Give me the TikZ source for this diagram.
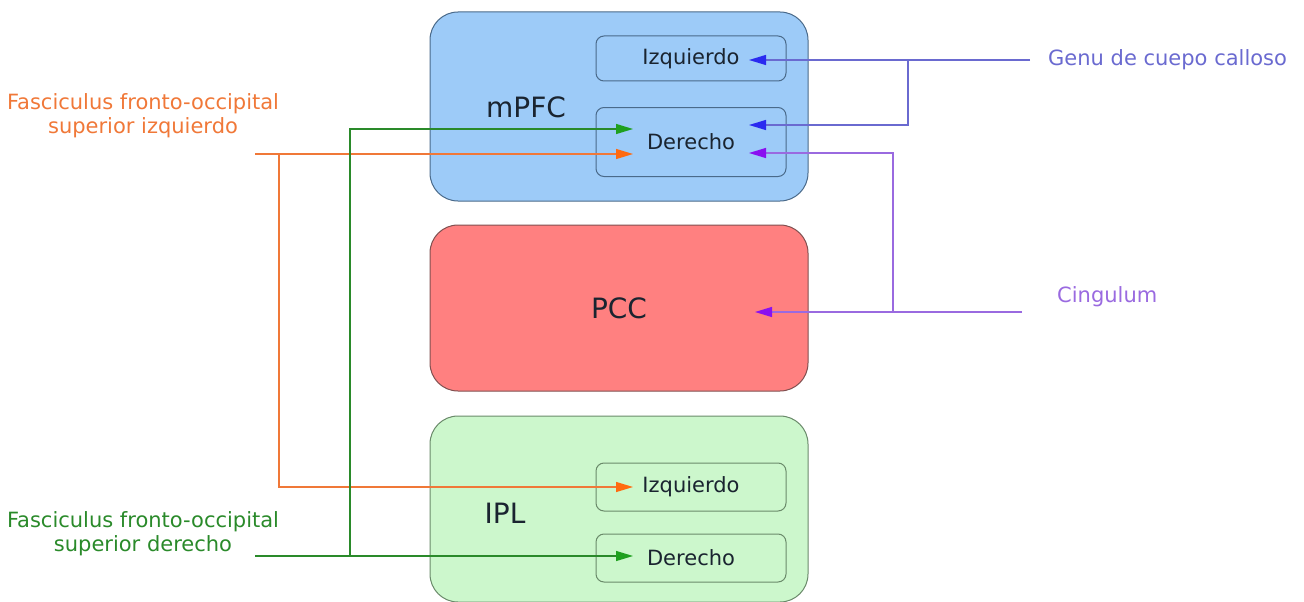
\documentclass[tikz,border=0pt]{standalone}
\usepackage{fontspec}
\setmainfont{DejaVu Sans}
\usetikzlibrary{arrows.meta}
\definecolor{blueFill}{HTML}{9DCBF8}
\definecolor{blueEdge}{HTML}{4A6A8A}
\definecolor{redFill}{HTML}{FF8080}
\definecolor{redEdge}{HTML}{805050}
\definecolor{greenFill}{HTML}{CCF7CC}
\definecolor{greenEdge}{HTML}{6A8A6A}
\definecolor{cOrange}{HTML}{F07838}
\definecolor{cOrangeTip}{HTML}{FF6A10}
\definecolor{cGreen}{HTML}{2A8A2A}
\definecolor{cGreenTip}{HTML}{1FA01F}
\definecolor{cBlue}{HTML}{6A6AD0}
\definecolor{cBlueTip}{HTML}{2A2AF0}
\definecolor{cPurple}{HTML}{9A6AE0}
\definecolor{cPurpleTip}{HTML}{8A10F0}
\definecolor{txt}{HTML}{1A2430}
\begin{document}
\begin{tikzpicture}[x=1pt,y=-1pt,
  bigbox/.style={draw, rounded corners=28pt, line width=1pt, minimum width=378pt, inner sep=0pt},
  subbox/.style={draw, rounded corners=8pt, line width=1pt, minimum width=190pt, inner sep=0pt, text=txt, font=\fontsize{21}{24}\selectfont},
  biglabel/.style={font=\fontsize{28}{32}\selectfont, inner sep=0pt, text=txt},
  sidelabel/.style={font=\fontsize{21}{24}\selectfont, align=center, inner sep=0pt},
  conn/.style={line width=1.2pt},
  tipO/.style={-{Triangle[length=17pt,width=10pt,color=cOrangeTip]}},
  tipG/.style={-{Triangle[length=17pt,width=10pt,color=cGreenTip]}},
  tipB/.style={-{Triangle[length=17pt,width=10pt,color=cBlueTip]}},
  tipP/.style={-{Triangle[length=17pt,width=10pt,color=cPurpleTip]}},
]
\useasboundingbox (0,0) rectangle (1304,602);
% big boxes
\node[bigbox, fill=blueFill, draw=blueEdge, minimum height=189pt] (mpfc) at (619,106.5) {};
\node[bigbox, fill=redFill, draw=redEdge, minimum height=166pt] (pcc) at (619,308) {};
\node[bigbox, fill=greenFill, draw=greenEdge, minimum height=186pt] (ipl) at (619,509) {};
% big labels
\node[biglabel] (mpfcL) at (526,107) {mPFC};
\node[biglabel] (pccL) at (619,308) {PCC};
\node[biglabel] (iplL) at (505,513) {IPL};
% sub boxes
\node[subbox, fill=blueFill, draw=blueEdge, minimum height=45pt] (mIzq) at (691,58.5) {Izquierdo};
\node[subbox, fill=blueFill, draw=blueEdge, minimum height=69pt] (mDer) at (691,142) {Derecho};
\node[subbox, fill=greenFill, draw=greenEdge, minimum height=48pt] (iIzq) at (691,487) {Izquierdo};
\node[subbox, fill=greenFill, draw=greenEdge, minimum height=48pt] (iDer) at (691,558) {Derecho};
% side labels
\node[sidelabel, text=cOrange] (ffoI) at (143,116) {Fasciculus fronto-occipital\\superior izquierdo};
\node[sidelabel, text=cGreen] (ffoD) at (143,534) {Fasciculus fronto-occipital\\superior derecho};
\node[sidelabel, text=cBlue, anchor=west] (genu) at (1048,60) {Genu de cuepo calloso};
\node[sidelabel, text=cPurple, anchor=west] (cing) at (1057,297) {Cingulum};
% coordinates
\coordinate (oStart) at (255,154);
\coordinate (oJ) at (279,154);
\coordinate (oEnd1) at (633,154);
\coordinate (oEnd2) at (633,487);
\coordinate (gStart) at (255,556);
\coordinate (gJ) at (350,556);
\coordinate (gEnd1) at (633,129);
\coordinate (gEnd2) at (633,556);
\coordinate (bStart) at (1030,60);
\coordinate (bJ) at (908,60);
\coordinate (bEnd1) at (749,60);
\coordinate (bEnd2) at (749,125);
\coordinate (pStart) at (1022,312);
\coordinate (pJ) at (893,312);
\coordinate (pEnd1) at (749,153);
\coordinate (pEnd2) at (755,312);
% orange
\draw[conn, cOrange] (oStart) -- (oJ);
\draw[conn, cOrange, tipO] (oJ) -- (oEnd1);
\draw[conn, cOrange, tipO] (oJ) |- (oEnd2);
% green
\draw[conn, cGreen, tipG] (gStart) -- (gEnd2);
\draw[conn, cGreen, tipG] (gJ) |- (gEnd1);
% blue
\draw[conn, cBlue, tipB] (bStart) -- (bEnd1);
\draw[conn, cBlue, tipB] (bJ) |- (bEnd2);
% purple
\draw[conn, cPurple, tipP] (pStart) -- (pEnd2);
\draw[conn, cPurple, tipP] (pJ) |- (pEnd1);
\end{tikzpicture}
\end{document}
